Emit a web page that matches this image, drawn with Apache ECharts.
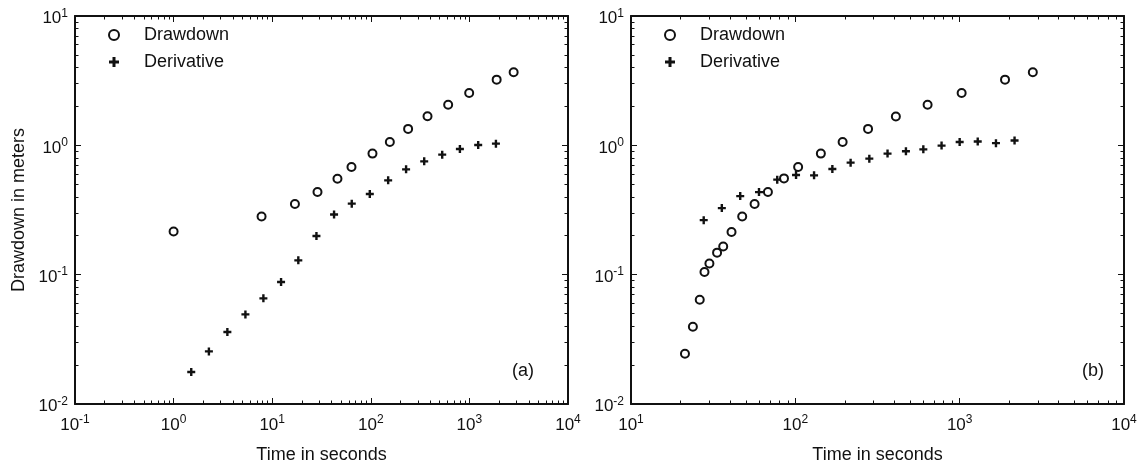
<!DOCTYPE html>
<html>
<head>
<meta charset="utf-8">
<script src="https://cdn.jsdelivr.net/npm/echarts@6/dist/echarts.min.js"></script>
<style>
html,body{margin:0;padding:0;background:#fff;}
#c{width:1137px;height:463px;}
</style>
</head>
<body>
<div id="c"></div>
<script>
// ---- data ----
const timeA_drawdown = [1.0, 7.8, 17, 28.8, 45.9, 63.7, 104, 156, 239, 376, 609, 995, 1890, 2810];
const valA_drawdown  = [0.216, 0.282, 0.352, 0.435, 0.552, 0.68, 0.863, 1.06, 1.34, 1.68, 2.06, 2.54, 3.22, 3.67];
const timeA_deriv = [1.51, 2.28, 3.51, 5.35, 8.14, 12.3, 18.4, 28.1, 42.4, 64.1, 97.7, 150, 228, 348, 530, 801, 1228, 1858];
const valA_deriv  = [0.0177, 0.0255, 0.036, 0.0493, 0.0656, 0.0877, 0.129, 0.199, 0.292, 0.354, 0.42, 0.536, 0.652, 0.752, 0.847, 0.936, 1.005, 1.03];

const timeB_drawdown = [21.3, 23.8, 26.2, 28.0, 30.0, 33.4, 36.4, 40.9, 47.5, 56.5, 68.1, 85.3, 104, 143, 194, 277, 409, 638, 1028, 1888, 2787];
const valB_drawdown  = [0.0245, 0.0396, 0.064, 0.105, 0.122, 0.148, 0.165, 0.214, 0.282, 0.352, 0.435, 0.555, 0.68, 0.863, 1.06, 1.34, 1.67, 2.06, 2.54, 3.22, 3.67];
const timeB_deriv = [27.7, 35.7, 46.2, 60.1, 77.6, 101, 130, 168, 217, 282, 364, 471, 601, 776, 1000, 1288, 1663, 2158];
const valB_deriv  = [0.264, 0.327, 0.405, 0.435, 0.543, 0.589, 0.586, 0.656, 0.735, 0.789, 0.863, 0.899, 0.931, 0.995, 1.06, 1.07, 1.04, 1.09];

const xTicksA = [0.1, 1, 10, 100, 1000, 10000];
const xTicksB = [10, 100, 1000, 10000];
const yTicks  = [0.01, 0.1, 1, 10];

const seriesNames = ['Drawdown', 'Derivative'];
const xAxisName = 'Time in seconds';
const yAxisName = 'Drawdown in meters';
const panelLabels = ['(a)', '(b)'];

// ---- helpers ----
const FONT = 'Liberation Sans';
const INK = '#111';
function minorTicks(majors) {
  const out = [];
  for (let i = 0; i < majors.length - 1; i++) {
    for (let k = 2; k <= 9; k++) out.push(majors[i] * k);
  }
  return out;
}
function pairs(xs, ys) { return xs.map((x, i) => [x, ys[i]]); }
function expLabel(v) {
  const e = Math.round(Math.log10(v));
  return '{b|10}{e|' + e + '}';
}
const rich = {
  b: { fontSize: 17, lineHeight: 22, fontFamily: FONT, color: INK },
  e: { fontSize: 12, lineHeight: 12, verticalAlign: 'top', fontFamily: FONT, color: INK }
};

function makeX(grid, majors, showName) {
  const min = majors[0], max = majors[majors.length - 1];
  const base = { type: 'log', logBase: 10, gridIndex: grid, min: min, max: max, splitLine: { show: false } };
  const minors = minorTicks(majors);
  return [
    Object.assign({}, base, {
      position: 'bottom',
      name: showName ? xAxisName : '', nameLocation: 'middle', nameGap: 42,
      nameTextStyle: { fontSize: 18, fontFamily: FONT, color: INK },
      axisLine: { show: true, onZero: false, lineStyle: { color: INK, width: 2 } },
      axisTick: { show: true, inside: true, length: 6, customValues: majors, lineStyle: { color: INK, width: 1 } },
      axisLabel: { show: true, margin: 10, customValues: majors, formatter: expLabel, rich: rich }
    }),
    Object.assign({}, base, {
      position: 'bottom',
      axisLine: { show: false },
      axisTick: { show: true, inside: true, length: 3.5, customValues: minors, lineStyle: { color: INK, width: 1 } },
      axisLabel: { show: false }
    }),
    Object.assign({}, base, {
      position: 'top',
      axisLine: { show: true, onZero: false, lineStyle: { color: INK, width: 2 } },
      axisTick: { show: true, inside: true, length: 6, customValues: majors, lineStyle: { color: INK, width: 1 } },
      axisLabel: { show: false }
    }),
    Object.assign({}, base, {
      position: 'top',
      axisLine: { show: false },
      axisTick: { show: true, inside: true, length: 3.5, customValues: minors, lineStyle: { color: INK, width: 1 } },
      axisLabel: { show: false }
    })
  ];
}
function makeY(grid, majors, showName) {
  const min = majors[0], max = majors[majors.length - 1];
  const base = { type: 'log', logBase: 10, gridIndex: grid, min: min, max: max, splitLine: { show: false } };
  const minors = minorTicks(majors);
  return [
    Object.assign({}, base, {
      position: 'left',
      name: showName ? yAxisName : '', nameLocation: 'middle', nameGap: 47,
      nameTextStyle: { fontSize: 18, fontFamily: FONT, color: INK },
      axisLine: { show: true, onZero: false, lineStyle: { color: INK, width: 2 } },
      axisTick: { show: true, inside: true, length: 6, customValues: majors, lineStyle: { color: INK, width: 1 } },
      axisLabel: { show: true, margin: 7, padding: [5, 0, 0, 0], customValues: majors, formatter: expLabel, rich: rich }
    }),
    Object.assign({}, base, {
      position: 'left',
      axisLine: { show: false },
      axisTick: { show: true, inside: true, length: 3.5, customValues: minors, lineStyle: { color: INK, width: 1 } },
      axisLabel: { show: false }
    }),
    Object.assign({}, base, {
      position: 'right',
      axisLine: { show: true, onZero: false, lineStyle: { color: INK, width: 2 } },
      axisTick: { show: true, inside: true, length: 6, customValues: majors, lineStyle: { color: INK, width: 1 } },
      axisLabel: { show: false }
    }),
    Object.assign({}, base, {
      position: 'right',
      axisLine: { show: false },
      axisTick: { show: true, inside: true, length: 3.5, customValues: minors, lineStyle: { color: INK, width: 1 } },
      axisLabel: { show: false }
    })
  ];
}

const PLUS = 'path://M3.5,0H6.5V3.5H10V6.5H6.5V10H3.5V6.5H0V3.5H3.5Z';
function circleSeries(name, xi, yi, data) {
  return { type: 'scatter', name: name, xAxisIndex: xi, yAxisIndex: yi, data: data,
    symbol: 'circle', symbolSize: 8,
    itemStyle: { color: 'rgba(0,0,0,0)', borderColor: INK, borderWidth: 2, opacity: 1 } };
}
function plusSeries(name, xi, yi, data) {
  return { type: 'scatter', name: name, xAxisIndex: xi, yAxisIndex: yi, data: data,
    symbol: PLUS, symbolSize: 8,
    itemStyle: { color: INK, opacity: 1 } };
}
function legendAt(left) {
  return { orient: 'vertical', left: left, top: 26, padding: 0, itemWidth: 50, itemHeight: 10, itemGap: 9,
    selectedMode: false, data: seriesNames,
    textStyle: { fontSize: 18, fontFamily: FONT, color: INK } };
}

const chart = echarts.init(document.getElementById('c'), null, { renderer: 'canvas' });
chart.setOption({
  animation: false,
  backgroundColor: '#fff',
  textStyle: { fontFamily: FONT },
  grid: [
    { left: 75, top: 16, width: 493, height: 388, outerBoundsMode: 'none', containLabel: false },
    { left: 631, top: 16, width: 493, height: 388, outerBoundsMode: 'none', containLabel: false }
  ],
  xAxis: makeX(0, xTicksA, true).concat(makeX(1, xTicksB, true)),
  yAxis: makeY(0, yTicks, true).concat(makeY(1, yTicks, false)),
  legend: [legendAt(108), legendAt(664)],
  title: [
    { text: panelLabels[0], left: 512, top: 362, padding: 0, textStyle: { fontSize: 18, fontWeight: 'normal', fontFamily: FONT, color: INK } },
    { text: panelLabels[1], left: 1082, top: 362, padding: 0, textStyle: { fontSize: 18, fontWeight: 'normal', fontFamily: FONT, color: INK } }
  ],
  series: [
    circleSeries(seriesNames[0], 0, 0, pairs(timeA_drawdown, valA_drawdown)),
    plusSeries(seriesNames[1], 0, 0, pairs(timeA_deriv, valA_deriv)),
    circleSeries(seriesNames[0], 4, 4, pairs(timeB_drawdown, valB_drawdown)),
    plusSeries(seriesNames[1], 4, 4, pairs(timeB_deriv, valB_deriv))
  ]
});
</script>
</body>
</html>
